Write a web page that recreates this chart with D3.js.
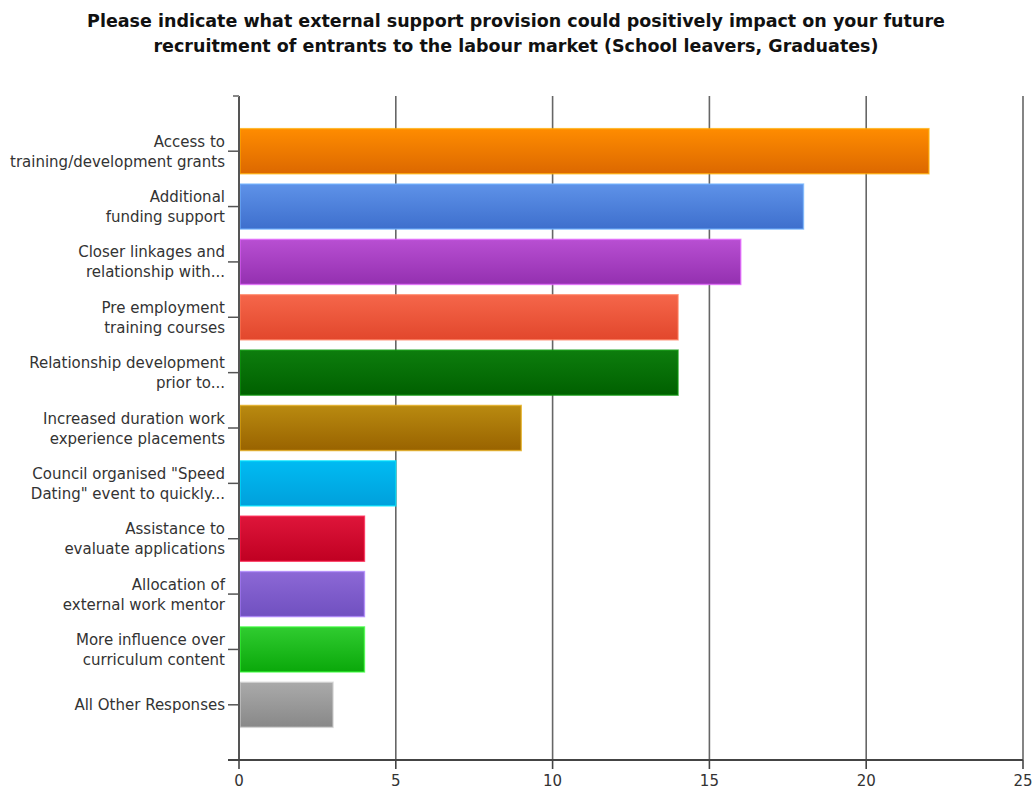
<!DOCTYPE html>
<html>
<head>
<meta charset="utf-8">
<script src="https://cdn.jsdelivr.net/npm/d3@7"></script>
<style>
  html, body { margin: 0; padding: 0; background: #fff; }
  svg { display: block; }
  text { font-family: "DejaVu Sans", sans-serif; }
</style>
</head>
<body>
<svg id="chart" width="1036" height="789"></svg>
<script>
// Survey responses: external support that could help recruit new entrants
const categories = [
  ["Access to", "training/development grants"],
  ["Additional", "funding support"],
  ["Closer linkages and", "relationship with..."],
  ["Pre employment", "training courses"],
  ["Relationship development", "prior to..."],
  ["Increased duration work", "experience placements"],
  ["Council organised \"Speed", "Dating\" event to quickly..."],
  ["Assistance to", "evaluate applications"],
  ["Allocation of", "external work mentor"],
  ["More influence over", "curriculum content"],
  ["All Other Responses"]
];
const values = [22, 18, 16, 14, 14, 9, 5, 4, 4, 4, 3];
const tickValues = [0, 5, 10, 15, 20, 25];
// top / bottom gradient stops per bar
const barTop = ["#ff8c00", "#5e92e8", "#b84fd2", "#f5664a", "#0d7d0d", "#b98a10", "#00bbf2", "#de153a", "#8c68d6", "#30cc30", "#aaaaaa"];
const barBottom = ["#dc6800", "#3e6fcd", "#9430b0", "#e2472c", "#006000", "#996300", "#00a0dc", "#c00022", "#7050c0", "#0aa80a", "#888888"];
const titleLines = [
  "Please indicate what external support provision could positively impact on your future",
  "recruitment of entrants to the labour market (School leavers, Graduates)"
];

const svg = d3.select("#chart");
const plotLeft = 239, plotRight = 1023, plotTop = 96, plotBottom = 760;

const x = d3.scaleLinear().domain([0, 25]).range([plotLeft, plotRight]);
const y = d3.scaleBand().domain(d3.range(values.length)).range([plotTop, plotBottom])
  .paddingInner(0.186).paddingOuter(0.59);

// gradients
const defs = svg.append("defs");
values.forEach((v, i) => {
  const g = defs.append("linearGradient").attr("id", "grad" + i)
    .attr("x1", 0).attr("y1", 0).attr("x2", 0).attr("y2", 1);
  g.append("stop").attr("offset", "0%").attr("stop-color", barTop[i]);
  g.append("stop").attr("offset", "100%").attr("stop-color", barBottom[i]);
});

// title
svg.append("g").selectAll("text").data(titleLines).join("text")
  .attr("x", 516).attr("y", (d, i) => 27 + i * 25)
  .attr("text-anchor", "middle")
  .attr("font-size", 17.5).attr("font-weight", "bold").attr("fill", "#111")
  .text(d => d);

// vertical gridlines
svg.append("g").selectAll("line").data(tickValues.slice(1)).join("line")
  .attr("x1", d => x(d)).attr("x2", d => x(d))
  .attr("y1", plotTop).attr("y2", plotBottom)
  .attr("stroke", "#666").attr("stroke-width", 1.6);

// bars
svg.append("g").selectAll("rect").data(values).join("rect")
  .attr("x", x(0) + 1)
  .attr("y", (d, i) => y(i))
  .attr("width", d => x(d) - x(0) - 1)
  .attr("height", y.bandwidth())
  .attr("fill", (d, i) => `url(#grad${i})`)
  .attr("stroke", (d, i) => d3.color(barTop[i]).brighter(0.6))
  .attr("stroke-opacity", 0.7)
  .attr("stroke-width", 1.5);

// y axis line and category ticks
svg.append("line").attr("x1", plotLeft).attr("x2", plotLeft).attr("y1", plotTop).attr("y2", plotBottom)
  .attr("stroke", "#555").attr("stroke-width", 2);
svg.append("line").attr("x1", plotLeft - 6).attr("x2", plotLeft).attr("y1", plotTop).attr("y2", plotTop)
  .attr("stroke", "#888").attr("stroke-width", 2);
svg.append("g").selectAll("line").data(values).join("line")
  .attr("x1", plotLeft - 11).attr("x2", plotLeft)
  .attr("y1", (d, i) => y(i) + y.bandwidth() / 2)
  .attr("y2", (d, i) => y(i) + y.bandwidth() / 2)
  .attr("stroke", "#555").attr("stroke-width", 1.5);

// category labels
const lab = svg.append("g").selectAll("text").data(categories).join("text")
  .attr("text-anchor", "end").attr("font-size", 15).attr("fill", "#333")
  .attr("transform", (d, i) => `translate(${plotLeft - 14},${y(i) + y.bandwidth() / 2})`);
lab.selectAll("tspan").data(d => d.map((t, j) => ({t, j, n: d.length}))).join("tspan")
  .attr("x", 0)
  .attr("y", d => d.n === 1 ? 5.5 : (d.j === 0 ? -4.5 : 15.5))
  .text(d => d.t);

// x axis
svg.append("line").attr("x1", plotLeft - 11).attr("x2", plotRight).attr("y1", plotBottom).attr("y2", plotBottom)
  .attr("stroke", "#444").attr("stroke-width", 2);
svg.append("g").selectAll("line").data(tickValues).join("line")
  .attr("x1", d => x(d)).attr("x2", d => x(d))
  .attr("y1", plotBottom).attr("y2", plotBottom + 9)
  .attr("stroke", "#444").attr("stroke-width", 1.6);
svg.append("g").selectAll("text").data(tickValues).join("text")
  .attr("x", d => x(d)).attr("y", plotBottom + 26)
  .attr("text-anchor", "middle").attr("font-size", 15).attr("fill", "#333")
  .text(d => d);
</script>
</body>
</html>
